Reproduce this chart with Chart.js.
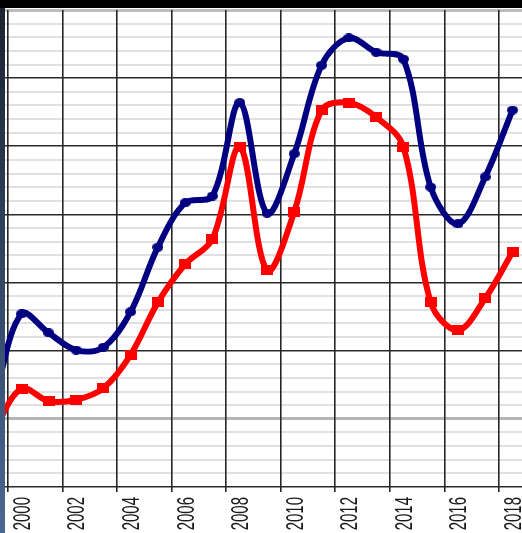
<!DOCTYPE html>
<html>
<head>
<meta charset="utf-8">
<script src="https://cdn.jsdelivr.net/npm/chart.js@4.4.1/dist/chart.umd.min.js"></script>
<style>
  html, body { margin: 0; padding: 0; background: #fff; overflow: hidden; }
  canvas { display: block; }
</style>
</head>
<body>
<canvas id="chart" width="522" height="533"></canvas>
<script>
// data (the y labels are cut off in the picture, so the units are arbitrary)
const years = [1999, 2000, 2001, 2002, 2003, 2004, 2005, 2006, 2007, 2008, 2009,
               2010, 2011, 2012, 2013, 2014, 2015, 2016, 2017, 2018];
const blueValues = [2.8, 15.4, 12.6, 10.1, 10.5, 15.7, 25.2, 31.7, 32.7, 46.4, 30.2,
                    38.9, 51.9, 55.9, 53.8, 52.8, 34.0, 28.6, 35.5, 45.3];
const redValues = [-1.6, 4.4, 2.6, 2.8, 4.5, 9.4, 17.1, 22.7, 26.4, 39.9, 21.8,
                   30.4, 45.3, 46.4, 44.3, 39.9, 17.1, 13.0, 17.7, 24.5];
const yearLabels = ['2000', '2002', '2004', '2006', '2008', '2010', '2012', '2014', '2016', '2018'];

// axis ranges
const xMin = 1999.395, xMax = 2018.347;
const yMin = -10, yMax = 60, yMinorStep = 2, yMajorStep = 10;

// vertical grid sits between categories, every second year
const gridYears = years.filter(y => y % 2 === 1).map(y => y + 0.5);

function makeMarker(w, h, color, round) {
    const c = document.createElement('canvas');
    c.width = w; c.height = h;
    const g = c.getContext('2d');
    g.fillStyle = color;
    if (round) {
        g.beginPath();
        g.ellipse(w / 2, h / 2, w / 2, h / 2, 0, 0, Math.PI * 2);
        g.fill();
    } else {
        g.fillRect(0, 0, w, h);
    }
    return c;
}

// frame around the cropped plot
const framePlugin = {
    id: 'frame',
    beforeDraw(chart) {
        const ctx = chart.ctx, w = chart.width, h = chart.height;
        ctx.save();
        ctx.fillStyle = '#fff';
        ctx.fillRect(0, 0, w, h);
        const grad = ctx.createLinearGradient(0, 0, 0, h);
        grad.addColorStop(0, '#1b2230');
        grad.addColorStop(1, '#4a6894');
        ctx.fillStyle = grad;
        ctx.fillRect(0, 0, 5, h);
        ctx.fillStyle = '#000';
        ctx.fillRect(0, 0, w, 8);
        ctx.restore();
    }
};

// narrow rotated year labels under the axis
const yearLabelPlugin = {
    id: 'yearLabels',
    afterDraw(chart) {
        const ctx = chart.ctx, xs = chart.scales.x;
        ctx.save();
        ctx.fillStyle = '#1a1a1a';
        ctx.font = '23px "Liberation Sans", Arial, sans-serif';
        ctx.textAlign = 'right';
        ctx.textBaseline = 'middle';
        yearLabels.forEach(lbl => {
            const x = xs.getPixelForValue(Number(lbl));
            ctx.save();
            ctx.translate(x + 1, 497);
            ctx.rotate(-Math.PI / 2);
            ctx.scale(0.65, 1);
            ctx.fillText(lbl, 0, 1);
            ctx.restore();
        });
        ctx.restore();
    }
};

const ctx = document.getElementById('chart').getContext('2d');

new Chart(ctx, {
    type: 'line',
    data: {
        datasets: [
            {
                label: 'blue',
                data: years.map((x, i) => ({ x: x, y: blueValues[i] })),
                borderColor: '#000080',
                backgroundColor: '#000080',
                borderWidth: 6,
                tension: 0.35,
                pointStyle: makeMarker(11, 9, '#000080', true),
                borderJoinStyle: 'round',
                borderCapStyle: 'round'
            },
            {
                label: 'red',
                data: years.map((x, i) => ({ x: x, y: redValues[i] })),
                borderColor: '#ff0000',
                backgroundColor: '#ff0000',
                borderWidth: 6,
                tension: 0.35,
                pointStyle: makeMarker(12, 10, '#ff0000', false),
                borderJoinStyle: 'round',
                borderCapStyle: 'round'
            }
        ]
    },
    plugins: [framePlugin, yearLabelPlugin],
    options: {
        responsive: false,
        animation: false,
        devicePixelRatio: 1,
        layout: { autoPadding: false, padding: { left: 5, top: 10, right: 0, bottom: 41 } },
        plugins: {
            legend: { display: false },
            tooltip: { enabled: false }
        },
        scales: {
            x: {
                type: 'linear',
                min: xMin,
                max: xMax,
                afterBuildTicks: s => { s.ticks = gridYears.map(v => ({ value: v })); },
                ticks: { display: false },
                border: { display: false },
                grid: { color: '#262626', lineWidth: 1.6, tickLength: 5, z: -1 }
            },
            y: {
                min: yMin,
                max: yMax,
                ticks: { display: false, stepSize: yMinorStep },
                border: { display: false },
                grid: {
                    z: -2,
                    drawTicks: false,
                    color: c => {
                        const v = Math.round(c.tick.value);
                        if (v === 0) return '#b4b4b4';
                        if (v === yMax) return '#bdbdbd';
                        return v % yMajorStep === 0 ? '#2a2a2a' : '#e0e0e0';
                    },
                    lineWidth: c => {
                        const v = Math.round(c.tick.value);
                        if (v === 0 || v === yMax) return 3;
                        return v % yMajorStep === 0 ? 1.6 : 2;
                    }
                }
            }
        }
    }
});
</script>
</body>
</html>
